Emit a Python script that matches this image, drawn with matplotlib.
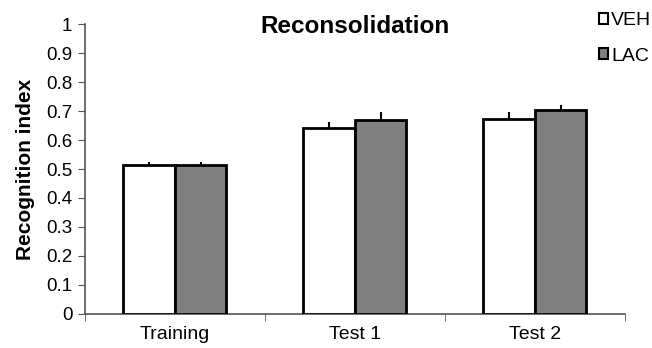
import matplotlib
matplotlib.use("Agg")
import matplotlib.pyplot as plt
import numpy as np
from matplotlib.patches import Patch

plt.rcParams['font.family'] = ['Liberation Sans', 'DejaVu Sans']

categories = ["Training", "Test 1", "Test 2"]
series_names = ["VEH", "LAC"]
veh_values = [0.515, 0.643, 0.673]
veh_errors = [0.010, 0.020, 0.025]
lac_values = [0.515, 0.668, 0.703]
lac_errors = [0.010, 0.028, 0.020]
yticks = [0, 0.1, 0.2, 0.3, 0.4, 0.5, 0.6, 0.7, 0.8, 0.9, 1.0]
ytick_labels = ["0", "0.1", "0.2", "0.3", "0.4", "0.5", "0.6", "0.7", "0.8", "0.9", "1"]

fig = plt.figure(figsize=(6.52, 3.48), dpi=100)
ax = fig.add_axes([0.130, 0.0986, 0.8286, 0.8314])

x = np.arange(len(categories))
w = 0.286
ax.bar(x - w/2, veh_values, w, color="white", edgecolor="black", linewidth=2,
       yerr=[np.zeros(3), veh_errors], error_kw=dict(ecolor="black", elinewidth=1.5, capsize=0), zorder=3)
ax.bar(x + w/2, lac_values, w, color="#808080", edgecolor="black", linewidth=2,
       yerr=[np.zeros(3), lac_errors], error_kw=dict(ecolor="black", elinewidth=1.5, capsize=0), zorder=3)

ax.set_xlim(-0.5, 2.5)
ax.set_ylim(0, 1)
ax.set_yticks(yticks)
ax.set_yticklabels(ytick_labels, fontsize=13.5)
ax.set_xticks(x)
ax.set_xticklabels(categories, fontsize=14)
ax.tick_params(axis='x', length=0, pad=9)
ax.set_xticks([-0.5, 0.5, 1.5, 2.5], minor=True)
ax.tick_params(axis='x', which='minor', length=5, color="#555555", direction='out')
ax.tick_params(axis='y', length=5, color="#555555", direction='out', pad=4)

for s in ["top", "right"]:
    ax.spines[s].set_visible(False)
for s in ["left", "bottom"]:
    ax.spines[s].set_color("#555555")
    ax.spines[s].set_linewidth(1.2)

ax.set_ylabel("Recognition index", fontsize=15, fontweight="bold", labelpad=8)
ax.set_title("Reconsolidation", fontsize=17.5, fontweight="bold", pad=0, y=0.970)

handles = [Patch(facecolor="white", edgecolor="black", linewidth=1.5),
           Patch(facecolor="#808080", edgecolor="black", linewidth=1.5)]
fig.legend(handles, series_names, loc="upper left", bbox_to_anchor=(0.918, 0.965),
           frameon=False, fontsize=14, handlelength=0.5, handleheight=0.5,
           handletextpad=0.15, labelspacing=0.95, borderaxespad=0, borderpad=0)

fig.savefig("out.png", dpi=100)
